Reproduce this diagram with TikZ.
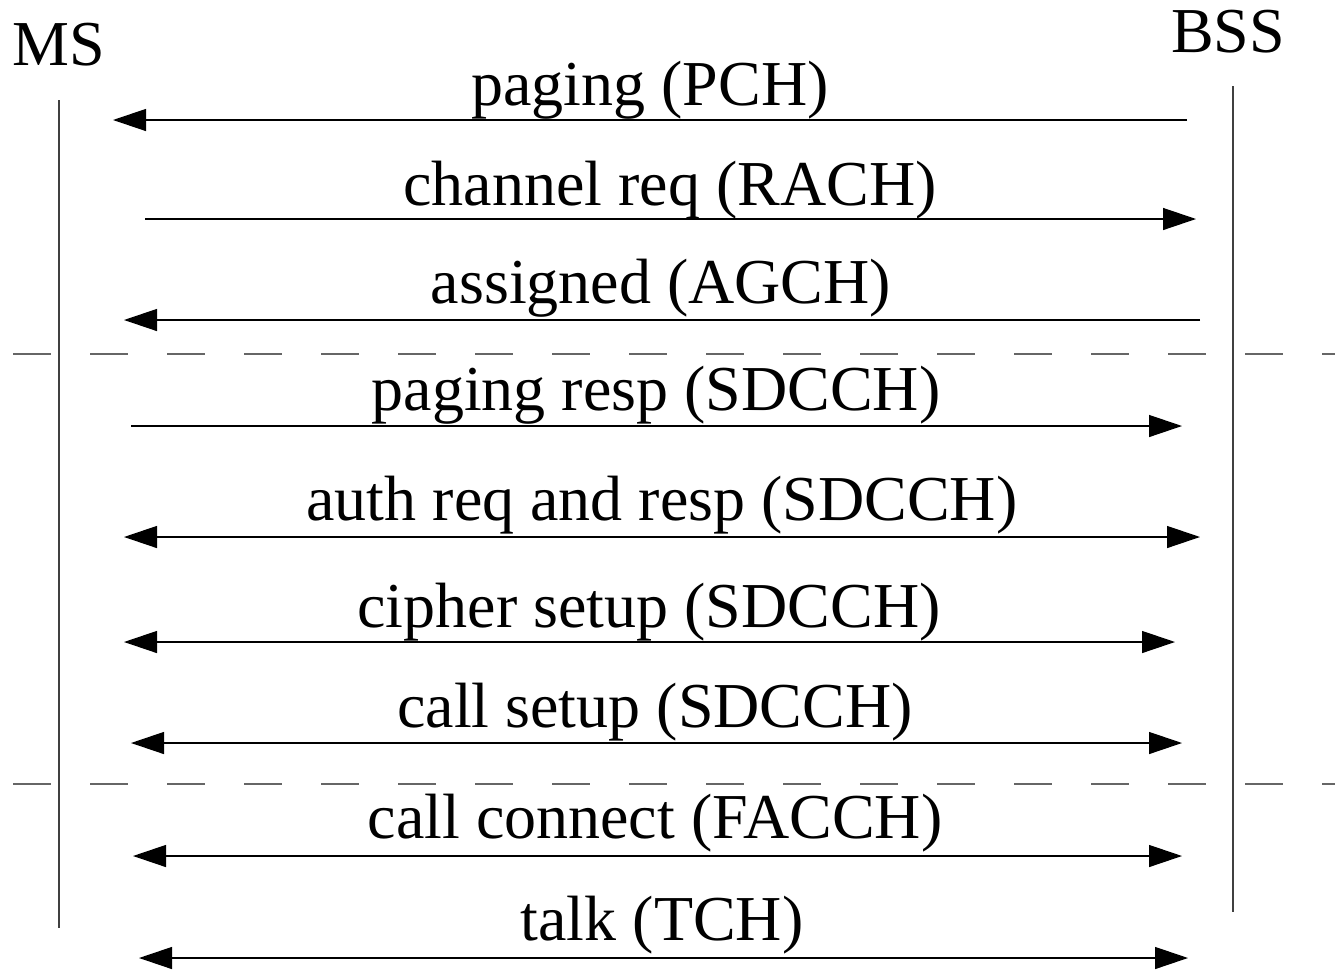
\documentclass[tikz,border=0pt]{standalone}
\usepackage{fontspec}
\setmainfont{Liberation Serif}
\usetikzlibrary{arrows.meta}
\tikzset{
  lbl/.style={anchor=base, inner sep=0pt, font=\fontsize{64}{70}\selectfont},
  msg/.style={line width=1.3pt, draw=black},
  tipR/.style={-{Triangle[length=33pt,width=22pt,fill=black]}},
  tipLR/.style={{Triangle[length=33pt,width=22pt,fill=black]}-{Triangle[length=33pt,width=22pt,fill=black]}},
  life/.style={line width=1.4pt, draw=black!75},
  sep/.style={line width=1.3pt, draw=black!60, dash pattern=on 38pt off 39pt, dash phase=-3pt}
}
\begin{document}
\begin{tikzpicture}[x=1pt,y=-1pt]
\useasboundingbox (0,0) rectangle (1335,970);
% entities
\node[lbl] (ms) at (59,65) {MS};
\node[lbl] (bss) at (1228,52) {BSS};
% lifelines
\coordinate (msT) at (59,100); \coordinate (msB) at (59,928);
\coordinate (bssT) at (1233,86); \coordinate (bssB) at (1233,912);
\draw[life] (msT) -- (msB);
\draw[life] (bssT) -- (bssB);
% separators
\coordinate (s1a) at (10,354); \coordinate (s1b) at (1335,354);
\coordinate (s2a) at (10,784); \coordinate (s2b) at (1335,784);
\draw[sep] (s1a) -- (s1b);
\draw[sep] (s2a) -- (s2b);
% messages
\node[lbl] (m1) at (650,105) {paging (PCH)};
\coordinate (a1l) at (113,120); \coordinate (a1r) at (1187,120);
\draw[msg,tipR] (a1r) -- (a1l);

\node[lbl] (m2) at (670,205) {channel req (RACH)};
\coordinate (a2l) at (145,219); \coordinate (a2r) at (1196,219);
\draw[msg,tipR] (a2l) -- (a2r);

\node[lbl] (m3) at (661,303) {assigned (AGCH)};
\coordinate (a3l) at (124,320); \coordinate (a3r) at (1200,320);
\draw[msg,tipR] (a3r) -- (a3l);

\node[lbl] (m4) at (656,410) {paging resp (SDCCH)};
\coordinate (a4l) at (131,426); \coordinate (a4r) at (1182,426);
\draw[msg,tipR] (a4l) -- (a4r);

\node[lbl] (m5) at (662,520) {auth req and resp (SDCCH)};
\coordinate (a5l) at (124,537); \coordinate (a5r) at (1200,537);
\draw[msg,tipLR] (a5l) -- (a5r);

\node[lbl] (m6) at (649,627) {cipher setup (SDCCH)};
\coordinate (a6l) at (124,642); \coordinate (a6r) at (1175,642);
\draw[msg,tipLR] (a6l) -- (a6r);

\node[lbl] (m7) at (655,727) {call setup (SDCCH)};
\coordinate (a7l) at (131,743); \coordinate (a7r) at (1182,743);
\draw[msg,tipLR] (a7l) -- (a7r);

\node[lbl] (m8) at (655,838) {call connect (FACCH)};
\coordinate (a8l) at (133,856); \coordinate (a8r) at (1182,856);
\draw[msg,tipLR] (a8l) -- (a8r);

\node[lbl] (m9) at (662,940) {talk (TCH)};
\coordinate (a9l) at (139,958); \coordinate (a9r) at (1188,958);
\draw[msg,tipLR] (a9l) -- (a9r);
\end{tikzpicture}
\end{document}
